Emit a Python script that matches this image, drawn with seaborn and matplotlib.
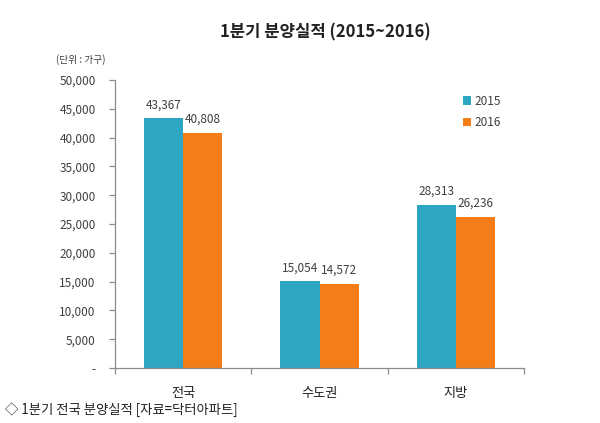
import matplotlib
matplotlib.use("Agg")
import matplotlib.pyplot as plt
import seaborn as sns
import pandas as pd
from matplotlib.ticker import FuncFormatter, FixedLocator

regions = ["전국", "수도권", "지방"]
years = ["2015", "2016"]
values_2015 = [43367, 15054, 28313]
values_2016 = [40808, 14572, 26236]
yticks = [0, 5000, 10000, 15000, 20000, 25000, 30000, 35000, 40000, 45000, 50000]
title = "1분기 분양실적 (2015~2016)"
unit_label = "(단위 : 가구)"
footer = "◇ 1분기 전국 분양실적 [자료=닥터아파트]"

df = pd.DataFrame({
    "region": regions * 2,
    "year": [years[0]] * 3 + [years[1]] * 3,
    "value": values_2015 + values_2016,
})

sns.set_theme(style="white")
plt.rcParams["font.family"] = ["Noto Sans CJK KR", "DejaVu Sans"]

colors = {"2015": "#2EA5C3", "2016": "#F47D17"}
fig = plt.figure(figsize=(6, 4.23), dpi=100)
ax = fig.add_axes([115/600, 1 - 368/423, (524-115)/600, (368-80)/423])

sns.barplot(data=df, x="region", y="value", hue="year", palette=colors,
            width=0.575, ax=ax, saturation=1, legend=True, linewidth=0)

ax.set_ylim(0, 50000)
ax.set_xlim(-0.5, 2.5)
ax.yaxis.set_major_locator(FixedLocator(yticks))
ax.yaxis.set_major_formatter(FuncFormatter(lambda v, p: "-" if v == 0 else f"{int(v):,}"))
ax.set_xlabel("")
ax.set_ylabel("")

gray = "#8C8C8C"
txt = "#404040"
for s in ["top", "right"]:
    ax.spines[s].set_visible(False)
for s in ["left", "bottom"]:
    ax.spines[s].set_color(gray)
    ax.spines[s].set_linewidth(0.9)

ax.tick_params(axis="y", which="major", left=True, length=4, width=0.9, color=gray,
               labelsize=8.5, labelcolor=txt, pad=10)
ax.tick_params(axis="x", which="major", bottom=False, labelsize=9.5, labelcolor="#222222", pad=8)
ax.xaxis.set_minor_locator(FixedLocator([-0.5, 0.5, 1.5, 2.5]))
ax.tick_params(axis="x", which="minor", bottom=True, length=4, width=0.9, color=gray)

for container in ax.containers:
    ax.bar_label(container, labels=[f"{int(v):,}" for v in container.datavalues],
                 padding=5, fontsize=8.5, color=txt)

handles, labels = ax.get_legend_handles_labels()
ax.legend(handles, labels, loc="upper left", bbox_to_anchor=(452/600, 1 - 84/423),
          bbox_transform=fig.transFigure, frameon=False, fontsize=8.5,
          handlelength=0.7, handleheight=0.7, handletextpad=0.3, labelspacing=0.75,
          labelcolor=txt)

fig.text(325/600, 1 - 32/423, title, ha="center", va="center", fontsize=12,
         fontweight="bold", color="#222222")
fig.text(56/600, 1 - 60/423, unit_label, ha="left", va="center", fontsize=7, color=txt)
fig.text(5/600, 1 - 410/423, footer, ha="left", va="center", fontsize=9.6, color="#222222")

fig.savefig("out.png", dpi=100)
